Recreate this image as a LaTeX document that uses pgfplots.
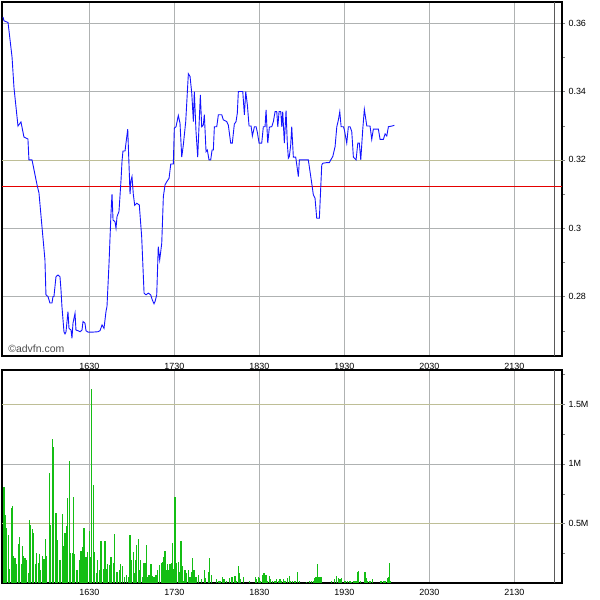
\documentclass[border=0pt]{standalone}
\usepackage{pgfplots}
\pgfplotsset{compat=1.18}
\usepackage{fontspec}
\setmainfont{Liberation Sans}
\definecolor{gridgray}{RGB}{175,178,178}
\definecolor{gridolive}{RGB}{190,190,150}
\definecolor{volgreen}{RGB}{20,190,20}
\definecolor{priceblue}{RGB}{20,20,255}
\begin{document}
\begin{tikzpicture}
\path[use as bounding box] (0,0) rectangle (600bp,-600bp);
\pgfplotsset{
  chartstyle/.style={
    scale only axis,
    axis line style={black, line width=1.1bp},
    tick label style={font=\fontsize{9}{10}\selectfont},
    ytick pos=right, yticklabel pos=right,
    tick align=outside,
    major tick length=3bp, minor tick length=3bp,
    xtick pos=bottom,
    xtick={1630,1730,1830,1930,2030,2130},
    xticklabels={1630,1730,1830,1930,2030,2130},
    major x tick style={draw=none},
    xmajorgrids, ymajorgrids,
    grid style={gridgray, line width=0.7bp},
    xmin=1527.3, xmax=2186,
    clip=true,
  }
}
% price panel
\begin{axis}[chartstyle,
  at={(2bp,-2bp)}, anchor=north west,
  width=560bp, height=354bp,
  ymin=0.2626, ymax=0.3662,
  ytick={0.28,0.30,0.34,0.36},
  yticklabels={0.28,0.3,0.34,0.36},
  extra y ticks={0.32}, extra y tick labels={0.32},
  extra y tick style={grid style={gridolive, line width=0.7bp}},
  minor ytick={0.27,0.29,0.31,0.33,0.35},
  xticklabel style={yshift=-1bp},
]
\addplot[gray!70!black, line width=0.8bp] coordinates {(2176.7,0.2626) (2176.7,0.3662)};
\addplot[red!90!black, line width=0.8bp] coordinates {(1527.3,0.3121) (2186,0.3121)};
\addplot[priceblue, line width=0.9bp] coordinates {
(1528.5,0.3618) (1529.6,0.3607) (1534.4,0.3602) (1539.1,0.3501) (1541.4,0.3411)
(1546.1,0.3299) (1549.6,0.3311) (1553.1,0.3267) (1557.8,0.3261) (1559.0,0.3200)
(1562.6,0.3200) (1568.5,0.3127) (1570.8,0.3103) (1574.3,0.3005) (1577.8,0.2908)
(1579.0,0.2805) (1581.4,0.2800) (1583.7,0.2781) (1586.1,0.2781) (1587.3,0.2800)
(1588.4,0.2800) (1590.8,0.2858) (1593.1,0.2863) (1595.5,0.2858) (1596.7,0.2819)
(1597.8,0.2771) (1600.2,0.2697) (1601.4,0.2691) (1602.6,0.2697) (1604.9,0.2756)
(1606.1,0.2707) (1608.5,0.2702) (1609.6,0.2678) (1610.8,0.2722) (1613.2,0.2751)
(1614.3,0.2702) (1616.7,0.2700) (1619.1,0.2697) (1621.4,0.2702) (1622.6,0.2727)
(1624.9,0.2722) (1626.1,0.2700) (1628.5,0.2696) (1634.4,0.2696) (1640.2,0.2697)
(1642.6,0.2700) (1645.0,0.2717) (1647.3,0.2707) (1649.6,0.2756) (1650.8,0.2771)
(1653.2,0.2898) (1655.5,0.3044) (1656.7,0.3100) (1657.9,0.3024) (1660.2,0.3019)
(1661.4,0.3000) (1662.6,0.3034) (1664.9,0.3049) (1667.3,0.3141) (1668.5,0.3197)
(1669.6,0.3226) (1672.0,0.3226) (1675.2,0.3290) (1677.9,0.3100) (1679.1,0.3141)
(1680.2,0.3151) (1681.8,0.3098) (1683.4,0.3067) (1685.8,0.3073) (1688.8,0.3068)
(1691.6,0.2975) (1694.4,0.2810) (1696.7,0.2805) (1699.4,0.2810) (1702.2,0.2805)
(1704.1,0.2790) (1706.1,0.2779) (1707.3,0.2785) (1709.3,0.2805) (1711.1,0.2946)
(1712.8,0.2907) (1715.2,0.2956) (1717.1,0.3093) (1719.1,0.3127) (1721.1,0.3136)
(1723.8,0.3146) (1725.8,0.3188) (1728.8,0.3188) (1730.0,0.3293) (1732.0,0.3297)
(1734.7,0.3330) (1736.7,0.3307) (1738.7,0.3208) (1740.6,0.3244) (1743.4,0.3312)
(1746.5,0.3452) (1748.5,0.3444) (1750.5,0.3395) (1752.4,0.3312) (1753.5,0.3400)
(1755.5,0.3283) (1757.5,0.3208) (1760.6,0.3390) (1762.2,0.3297) (1764.1,0.3302)
(1765.3,0.3332) (1767.3,0.3224) (1768.8,0.3229) (1770.8,0.3200) (1772.8,0.3200)
(1774.4,0.3229) (1775.9,0.3229) (1777.1,0.3297) (1779.9,0.3297) (1781.8,0.3332)
(1785.8,0.3332) (1787.6,0.3317) (1791.6,0.3312) (1793.5,0.3302) (1796.3,0.3249)
(1798.2,0.3249) (1800.6,0.3305) (1802.6,0.3312) (1804.1,0.3337) (1805.3,0.3400)
(1810.5,0.3400) (1812.4,0.3332) (1814.0,0.3400) (1815.9,0.3361) (1817.9,0.3299)
(1820.3,0.3299) (1821.8,0.3270) (1824.2,0.3297) (1826.2,0.3297) (1827.7,0.3280)
(1829.7,0.3249) (1832.8,0.3249) (1834.7,0.3297) (1836.7,0.3297) (1837.9,0.3346)
(1839.9,0.3249) (1841.8,0.3296) (1844.6,0.3297) (1846.5,0.3312) (1848.5,0.3341)
(1850.5,0.3341) (1851.7,0.3297) (1853.2,0.3341) (1855.2,0.3341) (1856.4,0.3297)
(1857.5,0.3341) (1859.4,0.3249) (1861.4,0.3344) (1862.9,0.3249) (1864.1,0.3205)
(1865.3,0.3210) (1866.9,0.3244) (1868.1,0.3297) (1870.0,0.3208) (1872.8,0.3208)
(1875.9,0.3151) (1877.1,0.3200) (1887.6,0.3200) (1891.6,0.3132) (1893.5,0.3098)
(1895.5,0.3088) (1897.5,0.3029) (1900.6,0.3029) (1903.4,0.3185) (1904.5,0.3190)
(1909.3,0.3192) (1912.4,0.3192) (1914.0,0.3200) (1916.4,0.3210) (1919.1,0.3239)
(1921.1,0.3297) (1923.0,0.3317) (1924.6,0.3341) (1926.2,0.3297) (1928.9,0.3297)
(1930.0,0.3288) (1932.8,0.3249) (1934.7,0.3297) (1936.7,0.3297) (1938.7,0.3283)
(1940.6,0.3208) (1943.8,0.3200) (1945.8,0.3249) (1947.6,0.3249) (1949.3,0.3200)
(1951.6,0.3288) (1953.5,0.3348) (1956.4,0.3299) (1960.2,0.3299) (1962.2,0.3260)
(1964.1,0.3290) (1970.0,0.3290) (1972.0,0.3260) (1975.9,0.3260) (1977.9,0.3276)
(1979.9,0.3270) (1981.8,0.3297) (1985.8,0.3299) (1988.8,0.3301)
};
\node[anchor=south west, inner sep=0pt, text=black!70, font=\fontsize{10.5}{11}\selectfont]
  at (rel axis cs:0.011,0.01) {©advfn.com};
\end{axis}
% volume panel
\begin{axis}[chartstyle,
  at={(2bp,-370bp)}, anchor=north west,
  width=560bp, height=213bp,
  ymin=0, ymax=1.788,
  ytick={1},
  yticklabels={1M},
  extra y ticks={0.5,1.5}, extra y tick labels={0.5M,1.5M},
  extra y tick style={grid style={gridolive, line width=0.7bp}},
  minor ytick={0.25,0.75,1.25,1.75},
]
\addplot[gray!70!black, line width=0.8bp] coordinates {(2176.7,0) (2176.7,1.788)};
\addplot[ycomb, volgreen, line width=1.35bp, mark=none] table {
x y
1529.6 0.81
1530.8 0.57
1532.0 0.46
1534.7 0.40
1535.9 0.12
1538.7 0.63
1539.8 0.65
1540.6 0.23
1542.6 0.21
1543.8 0.16
1546.5 0.33
1547.7 0.39
1550.4 0.16
1551.6 0.31
1552.4 0.23
1554.4 0.21
1555.5 0.19
1558.3 0.08
1559.5 0.53
1561.0 0.49
1563.0 0.45
1564.2 0.42
1566.5 0.16
1568.1 0.25
1570.0 0.17
1571.2 0.24
1572.0 0.11
1574.7 0.23
1576.7 0.20
1578.7 0.37
1579.8 0.23
1583.0 0.92
1584.2 0.49
1586.5 1.21
1587.7 1.14
1590.0 0.54
1590.8 0.59
1592.4 0.36
1595.5 0.19
1598.3 0.58
1599.5 0.31
1601.4 0.42
1603.4 0.48
1604.2 0.71
1606.5 1.02
1608.1 0.25
1610.0 0.25
1611.2 0.72
1612.4 0.24
1615.1 0.11
1616.3 0.11
1619.1 0.19
1620.2 0.27
1622.2 0.30
1623.8 0.46
1626.1 0.22
1627.7 0.26
1630.0 0.44
1630.8 0.22
1632.8 1.63
1634.7 0.82
1635.9 0.26
1638.7 0.08
1639.8 0.19
1641.8 0.11
1643.8 0.35
1646.5 0.12
1648.5 0.35
1650.4 0.12
1651.6 0.16
1653.6 0.15
1655.5 0.22
1656.3 0.15
1658.3 0.17
1659.4 0.41
1662.2 0.09
1663.4 0.09
1665.3 0.11
1666.9 0.16
1669.3 0.14
1671.2 0.05
1674.0 0.07
1675.9 0.05
1677.9 0.40
1679.1 0.19
1681.8 0.26
1683.0 0.08
1684.2 0.19
1685.7 0.32
1687.7 0.37
1688.9 0.11
1690.4 0.19
1692.4 0.05
1693.6 0.17
1695.5 0.17
1697.5 0.32
1698.7 0.05
1700.2 0.07
1702.6 0.16
1704.2 0.06
1706.1 0.05
1708.5 0.07
1710.0 0.11
1712.4 0.15
1715.1 0.17
1716.3 0.18
1717.9 0.22
1719.1 0.27
1721.0 0.11
1722.2 0.16
1723.8 0.11
1724.9 0.16
1726.9 0.17
1728.1 0.34
1729.7 0.12
1730.8 0.72
1732.8 0.17
1734.7 0.18
1736.7 0.09
1737.9 0.35
1739.1 0.14
1740.6 0.02
1742.6 0.11
1744.5 0.08
1746.5 0.11
1748.5 0.05
1750.4 0.09
1751.6 0.21
1753.2 0.11
1755.5 0.05
1758.3 0.07
1762.2 0.03
1765.3 0.11
1766.9 0.04
1770.0 0.09
1771.2 0.21
1774.0 0.07
1779.8 0.03
1781.8 0.02
1783.8 0.02
1786.9 0.05
1788.5 0.03
1791.6 0.02
1794.7 0.04
1797.5 0.05
1798.7 0.05
1801.4 0.06
1802.6 0.02
1805.3 0.14
1806.5 0.08
1808.1 0.03
1811.2 0.05
1818.3 0.02
1825.3 0.05
1826.9 0.03
1828.9 0.05
1830.0 0.04
1831.6 0.02
1834.0 0.07
1835.5 0.08
1837.9 0.07
1839.5 0.02
1841.8 0.06
1843.4 0.03
1845.7 0.02
1848.5 0.02
1850.4 0.03
1852.4 0.02
1854.3 0.03
1856.3 0.02
1858.3 0.03
1860.2 0.02
1863.0 0.04
1865.3 0.06
1866.9 0.02
1869.3 0.02
1872.0 0.02
1874.7 0.09
1877.1 0.02
1885.7 0.01
1888.9 0.02
1891.6 0.02
1893.6 0.02
1895.5 0.04
1896.7 0.05
1898.3 0.16
1899.4 0.05
1901.4 0.05
1903.4 0.05
1915.1 0.02
1918.3 0.03
1921.0 0.06
1923.0 0.04
1924.9 0.03
1926.9 0.04
1930.8 0.02
1933.9 0.02
1936.7 0.02
1938.7 0.01
1941.4 0.02
1943.8 0.02
1945.3 0.09
1946.5 0.10
1949.3 0.02
1954.4 0.09
1955.5 0.04
1957.1 0.02
1960.2 0.02
1963.4 0.03
1973.2 0.02
1975.9 0.02
1977.9 0.02
1980.6 0.04
1981.8 0.05
1983.0 0.17
1984.5 0.02
};
\end{axis}
\end{tikzpicture}
\end{document}
